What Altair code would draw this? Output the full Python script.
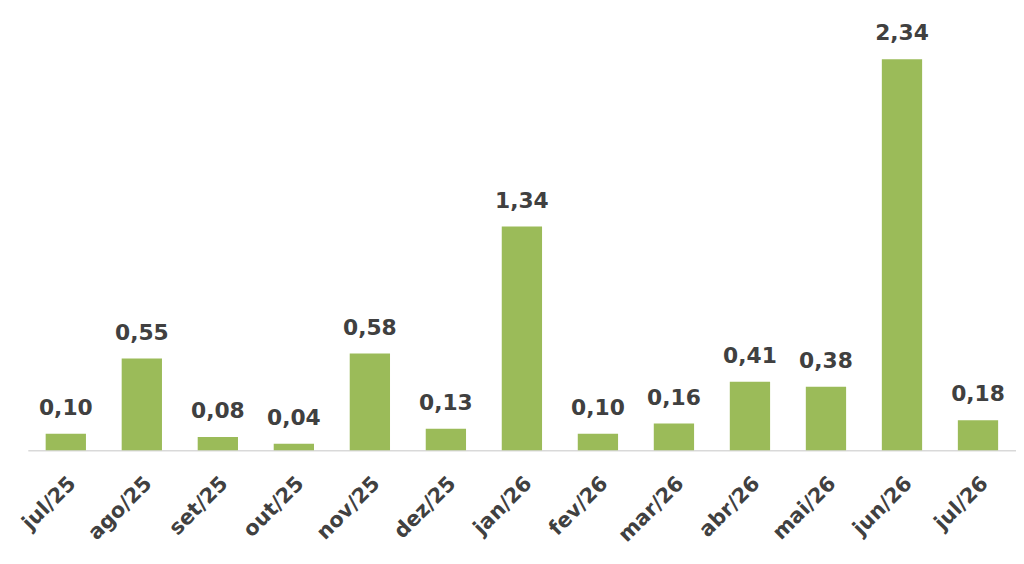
import altair as alt
import pandas as pd

months = ["jul/25", "ago/25", "set/25", "out/25", "nov/25", "dez/25", "jan/26",
          "fev/26", "mar/26", "abr/26", "mai/26", "jun/26", "jul/26"]
values = [0.10, 0.55, 0.08, 0.04, 0.58, 0.13, 1.34, 0.10, 0.16, 0.41, 0.38, 2.34, 0.18]
labels = ["0,10", "0,55", "0,08", "0,04", "0,58", "0,13", "1,34", "0,10", "0,16",
          "0,41", "0,38", "2,34", "0,18"]

df = pd.DataFrame({"mes": months, "valor": values, "rotulo": labels})

FONT = "DejaVu Sans"

x = alt.X("mes:N", sort=months,
          scale=alt.Scale(paddingInner=0.47, paddingOuter=0.235, round=False),
          axis=alt.Axis(title=None, labelAngle=-45, labelAlign="right", labelBaseline="middle",
                        labelFont=FONT, labelFontSize=21, labelFontWeight="bold",
                        labelColor="#404040", labelPadding=30, labelOffset=7, ticks=False,
                        domainColor="#D9D9D9", domainWidth=1.5))
y = alt.Y("valor:Q", scale=alt.Scale(domain=[0, 2.6186], nice=False, zero=True),
          axis=None)

bars = alt.Chart(df).mark_bar(color="#9BBB59").encode(x=x, y=y)
text = alt.Chart(df).mark_text(font=FONT, fontSize=22, fontWeight="bold", color="#404040",
                               baseline="alphabetic", dy=-19).encode(x=x, y=y, text="rotulo:N")

chart = (bars + text).properties(
    width=998, height=442,
    background="white",
    autosize=alt.AutoSizeParams(type="none"),
    padding={"left": 20, "top": 2, "right": 0, "bottom": 110},
).configure_view(strokeWidth=0, stroke=None)

chart.save("out.html", embed_options={"renderer": "svg", "actions": False})
